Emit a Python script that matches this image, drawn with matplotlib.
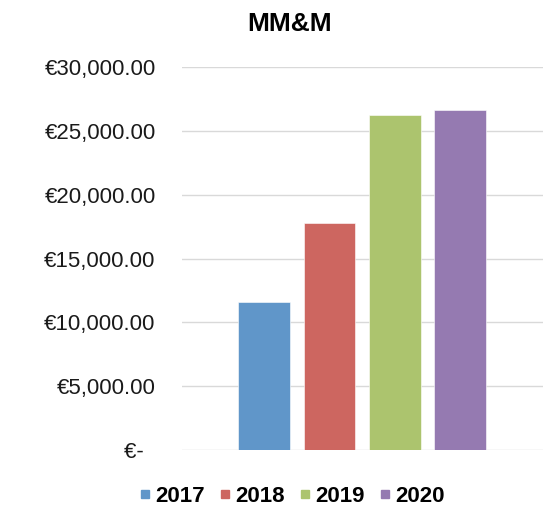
import matplotlib
matplotlib.use("Agg")
import matplotlib.pyplot as plt
from matplotlib.lines import Line2D
from matplotlib.ticker import FuncFormatter, MultipleLocator

plt.rcParams['font.family'] = ['Liberation Sans', 'DejaVu Sans']

# data
years = ['2017', '2018', '2019', '2020']
amounts = [11630, 17750, 26240, 26630]
colors = ['#6096C9', '#CD6660', '#ACC46E', '#957AB1']


def euro(v, pos):
    if v == 0:
        return '€-  '
    return '€{:,.2f}'.format(v)


fig = plt.figure(figsize=(5.5, 5.09), dpi=100)
ax = fig.add_axes([0.331, 0.116, 0.656, 0.752])

x = range(len(years))
ax.bar(x, amounts, width=0.79, color=colors, edgecolor='white', linewidth=0.4, zorder=2)

ax.set_ylim(0, 30000)
ax.set_xlim(-1.25, 3 + 1.26)
ax.yaxis.set_major_locator(MultipleLocator(5000))
ax.yaxis.set_major_formatter(FuncFormatter(euro))
ax.grid(axis='y', color='#D9D9D9', linewidth=1.0, zorder=0)
ax.set_xticks([])
ax.tick_params(axis='y', length=0, pad=19, labelsize=16, labelcolor='#1a1a1a')
for s in ax.spines.values():
    s.set_visible(False)

fig.text(0.527, 0.952, 'MM&M', ha='center', va='center', fontsize=19, fontweight='bold')

handles = [Line2D([], [], linestyle='none', marker='s', markersize=6,
                  markerfacecolor=c, markeredgecolor=c) for c in colors]
fig.legend(handles, years, loc='center', bbox_to_anchor=(0.53, 0.025), ncol=4,
           frameon=False, handlelength=0.6, handletextpad=0.15, columnspacing=0.62,
           prop={'weight': 'bold', 'size': 16})

fig.savefig('out.png', dpi=100)
